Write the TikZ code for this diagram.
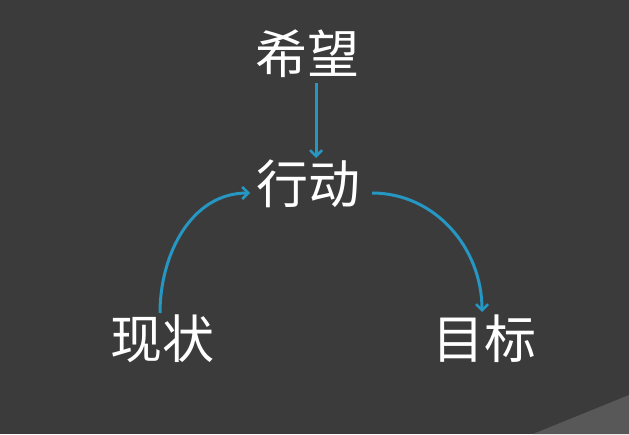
\documentclass[tikz,border=0pt]{standalone}
\usepackage{fontspec}
\newfontfamily\cjk{Noto Sans CJK SC}
\usetikzlibrary{arrows.meta,calc}
\definecolor{bgc}{RGB}{59,59,59}
\definecolor{cornerc}{RGB}{88,88,88}
\definecolor{arrc}{RGB}{38,150,195}
\begin{document}
\begin{tikzpicture}[x=1pt,y=1pt,
  word/.style={text=white,font=\cjk\fontsize{52}{56}\selectfont,inner sep=0pt},
  flow/.style={draw=arrc,line width=3pt,-{Straight Barb[length=6pt,width=12pt,line width=2.5pt]}}]
\fill[bgc] (0,0) rectangle (629,434);
\useasboundingbox (0,0) rectangle (629,434);
\fill[cornerc] (533,0) -- (629,39) -- (629,0) -- cycle;
\node[word] (hope) at (307,380) {希望};
\node[word] (act) at (308,250) {行动};
\node[word] (now) at (162,95) {现状};
\node[word] (goal) at (484,95) {目标};
\draw[flow] ($(hope)+(9,-29)$) -- ($(act)+(8,26)$);
\draw[flow] ($(now)+(-2,26)$) to[out=90,in=180] ($(act)+(-58,-9)$);
\draw[flow] ($(act)+(64,-9)$) to[out=0,in=90] ($(goal)+(-2,27)$);
\end{tikzpicture}
\end{document}
